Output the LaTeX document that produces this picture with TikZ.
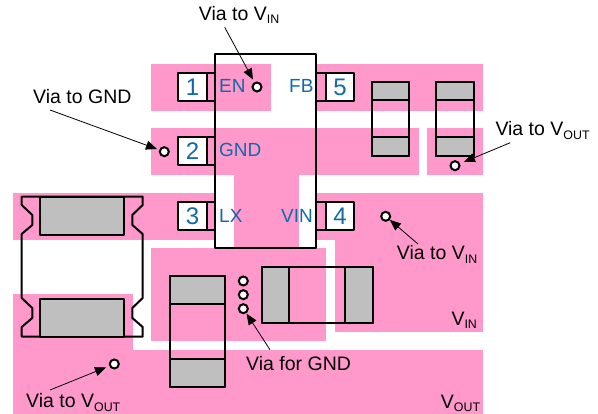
\documentclass[tikz,border=0pt]{standalone}
\usepackage{fontspec}
\setmainfont{Liberation Sans}
\usetikzlibrary{arrows.meta,shapes,positioning}
\definecolor{padpink}{HTML}{FF99CC}
\definecolor{partgray}{HTML}{BFBFBF}
\definecolor{pinblue}{HTML}{1069A8}
\newcommand{\subtxt}[1]{\raisebox{-0.3ex}{\fontsize{12.4}{12.4}\selectfont #1}}
\tikzset{
    pad/.style={fill=padpink, draw=none},
    outline/.style={draw=black, line width=2pt, line join=round},
    endcap/.style={outline, fill=partgray},
    via/.style={circle, draw=black, fill=white, line width=2pt, minimum size=9pt, inner sep=0pt},
    pinnum/.style={text=pinblue, font=\fontsize{24}{24}\selectfont, inner sep=0pt},
    pinname/.style={text=pinblue, font=\fontsize{19}{20}\selectfont, anchor=base west, inner sep=0pt},
    lbl/.style={text=black, font=\fontsize{19.5}{20}\selectfont, anchor=base west, inner sep=0pt},
    viaarrow/.style={-{Triangle[length=11pt,width=9pt]}, line width=0.8pt}
}
\begin{document}
\begin{tikzpicture}[x=1pt, y=-1pt]
        \useasboundingbox (0,0) rectangle (598,414);

        % Copper pads
        \fill[pad] (151,64) rectangle (271,111);
        \fill[pad] (316,64) rectangle (483,111);
        \fill[pad] (151,128) rectangle (419,175);
        \fill[pad] (427,128) rectangle (483,175);
        \fill[pad] (234,175) rectangle (299,248);
        \fill[pad] (151,248) rectangle (326,341);
        \fill[pad] (13,193) rectangle (215,240);
        \fill[pad] (316,193) rectangle (483,240);
        \fill[pad] (335,240) rectangle (483,332);
        \fill[pad] (13,294) rectangle (133,350);
        \fill[pad] (13,350) rectangle (483,414);

        % Package
        \draw[outline] (215,54) rectangle (316,248);

        % Pins on the left
        \foreach \name/\num/\y in {pinone/1/73, pintwo/2/137, pinthree/3/202} {
            \draw[outline, fill=white] (178,\y) rectangle (207,\y+28.5);
            \draw[outline] (207,\y) rectangle (215,\y+28.5);
            \node[pinnum] (\name) at (192.5,\y+14.5) {\num};
        }

        % Pins on the right
        \foreach \name/\num/\y in {pinfive/5/73, pinfour/4/202} {
            \draw[outline, fill=white] (326,\y) rectangle (354,\y+28.5);
            \draw[outline] (316,\y) rectangle (326,\y+28.5);
            \node[pinnum] (\name) at (340,\y+14.5) {\num};
        }

        % Pin names
        \node[pinname] (nameen) at (219,92.7) {EN};
        \node[pinname] (namefb) at (289,92.7) {FB};
        \node[pinname] (namegnd) at (219,156.7) {GND};
        \node[pinname] (namelx) at (219,222.3) {LX};
        \node[pinname] (namevin) at (281,222.3) {VIN};

        % Small caps on top
        \foreach \x in {371.7,436.3} {
            \draw[outline] (\x,82) rectangle (\x+37.5,156.5);
            \draw[endcap] (\x,82) rectangle (\x+37.5,100.5);
            \draw[endcap] (\x,137.5) rectangle (\x+37.5,156.5);
        }

        % Vertical cap
        \draw[outline] (169.7,276) rectangle (225,386.7);
        \draw[endcap] (169.7,276) rectangle (225,304);
        \draw[endcap] (169.7,359) rectangle (225,386.7);

        % Horizontal cap
        \draw[outline] (261.7,266.7) rectangle (372.7,322.7);
        \draw[endcap] (261.7,266.7) rectangle (289,322.7);
        \draw[endcap] (344.7,266.7) rectangle (372.7,322.7);

        % Inductor
        \draw[outline] (21.7,196.7) -- (142.7,196.7) -- (142.7,205) -- (132.3,215) -- (132.3,225) -- (142.7,234)
            -- (142.7,298) -- (132.3,308) -- (132.3,318) -- (142.7,327) -- (142.7,336.7) -- (21.7,336.7)
            -- (21.7,327) -- (32.3,318) -- (32.3,308) -- (21.7,298) -- (21.7,234) -- (32.3,225) -- (32.3,215)
            -- (21.7,205) -- cycle;
        \draw[endcap] (40,196.7) rectangle (124,234.7);
        \draw[endcap] (40,299) rectangle (124,336.7);

        % Vias
        \node[via] (viaen) at (257,87) {};
        \node[via] (viagnd) at (164.3,151.7) {};
        \node[via] (viaout) at (455,165.7) {};
        \node[via] (viain) at (385.7,216.3) {};
        \node[via] (viaa) at (243.3,281) {};
        \node[via] (viab) at (243.3,294.7) {};
        \node[via] (viac) at (243.3,308.7) {};
        \node[via] (viabot) at (114.3,364) {};

        % Labels
        \node[lbl] (lblen) at (198.7,20.7) {Via to V\subtxt{IN}};
        \node[lbl] (lblgnd) at (33,103.3) {Via to GND};
        \node[lbl] (lblout) at (495.3,136) {Via to V\subtxt{OUT}};
        \node[lbl] (lblin) at (396.7,260) {Via to V\subtxt{IN}};
        \node[lbl] (lblfor) at (246,370.7) {Via for GND};
        \node[lbl] (lblbot) at (26,408) {Via to V\subtxt{OUT}};
        \node[lbl] (netin) at (451.3,325.7) {V\subtxt{IN}};
        \node[lbl] (netout) at (440.7,408.3) {V\subtxt{OUT}};

        % Arrow tails
        \coordinate (tailen) at (224.7,27.3);
        \coordinate (tailgnd) at (50,110);
        \coordinate (tailout) at (510.3,142.7);
        \coordinate (tailin) at (418,244);
        \coordinate (tailfor) at (270,349.7);
        \coordinate (tailbot) at (50,390);

        % Arrows
        \draw[viaarrow, shorten >=3pt] (tailen) -- (viaen);
        \draw[viaarrow, shorten >=2.3pt] (tailgnd) -- (viagnd);
        \draw[viaarrow, shorten >=4.2pt] (tailout) -- (viaout);
        \draw[viaarrow] (tailin) -- (viain);
        \draw[viaarrow, shorten >=0.5pt] (tailfor) -- (viac);
        \draw[viaarrow, shorten >=3.5pt] (tailbot) -- (viabot);
    \end{tikzpicture}
\end{document}
